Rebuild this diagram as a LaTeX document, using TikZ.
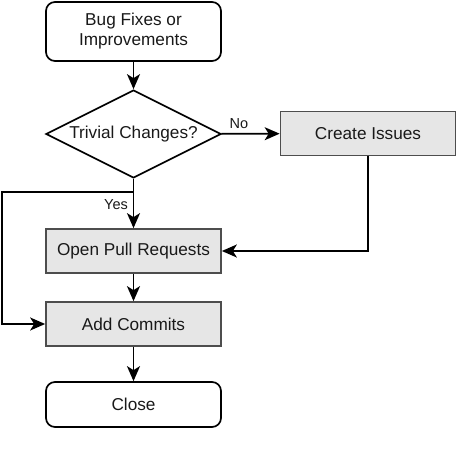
\documentclass[tikz,border=0pt]{standalone}
\usepackage{fontspec}
\setmainfont{Liberation Sans}
\usetikzlibrary{shapes.geometric,arrows.meta}
\definecolor{boxfill}{HTML}{E6E6E6}
\definecolor{boxline}{HTML}{4D4D4D}
\begin{document}
\begin{tikzpicture}[x=1pt,y=-1pt,
  every node/.style={font=\fontsize{17.2}{20}\selectfont, text=black!90},
  term/.style={draw, line width=1.7pt, rounded corners=9pt, minimum width=175pt, minimum height=59pt, inner sep=0pt, align=center},
  proc/.style={draw=boxline, fill=boxfill, line width=1.7pt, minimum width=175pt, minimum height=44pt, inner sep=0pt},
  dec/.style={draw, line width=1.7pt, diamond, aspect=2, minimum width=175pt, minimum height=88pt, inner sep=0pt},
  conn/.style={line width=1.7pt, -{Stealth[length=15pt,width=13pt,inset=4pt]}},
  lbl/.style={font=\fontsize{14.5}{16}\selectfont}
]
\useasboundingbox (0,0) rectangle (458,462);
\node[term] (bug) at (133.5,31.5) {Bug Fixes or\\Improvements};
\node[dec] (triv) at (133.5,134) {};
\node at (133.5,134) {Trivial Changes?};
\node[proc] (issues) at (368,133.5) {Create Issues};
\node[proc] (pr) at (133.5,251) {Open Pull Requests};
\node[proc] (commits) at (133.5,324) {Add Commits};
\node[term, minimum height=45pt] (close) at (133.5,404.5) {Close};
\coordinate (split) at (133.5,192);
\coordinate (lefttop) at (2,192);
\coordinate (leftbot) at (2,324);
\coordinate (iscorner) at (368,251);

\draw[conn] (bug) -- (triv);
\draw[conn] (triv) -- node[lbl, above, pos=0.3, yshift=1pt] {No} (issues);
\draw[conn] (triv) -- (pr);
\node[lbl] at (116,205) {Yes};
\draw[conn] (split) -- (lefttop) -- (leftbot) -- (commits.west);
\draw[conn] (issues) -- (iscorner) -- (pr.east);
\draw[conn] (pr) -- (commits);
\draw[conn] (commits) -- (close);
\end{tikzpicture}
\end{document}
